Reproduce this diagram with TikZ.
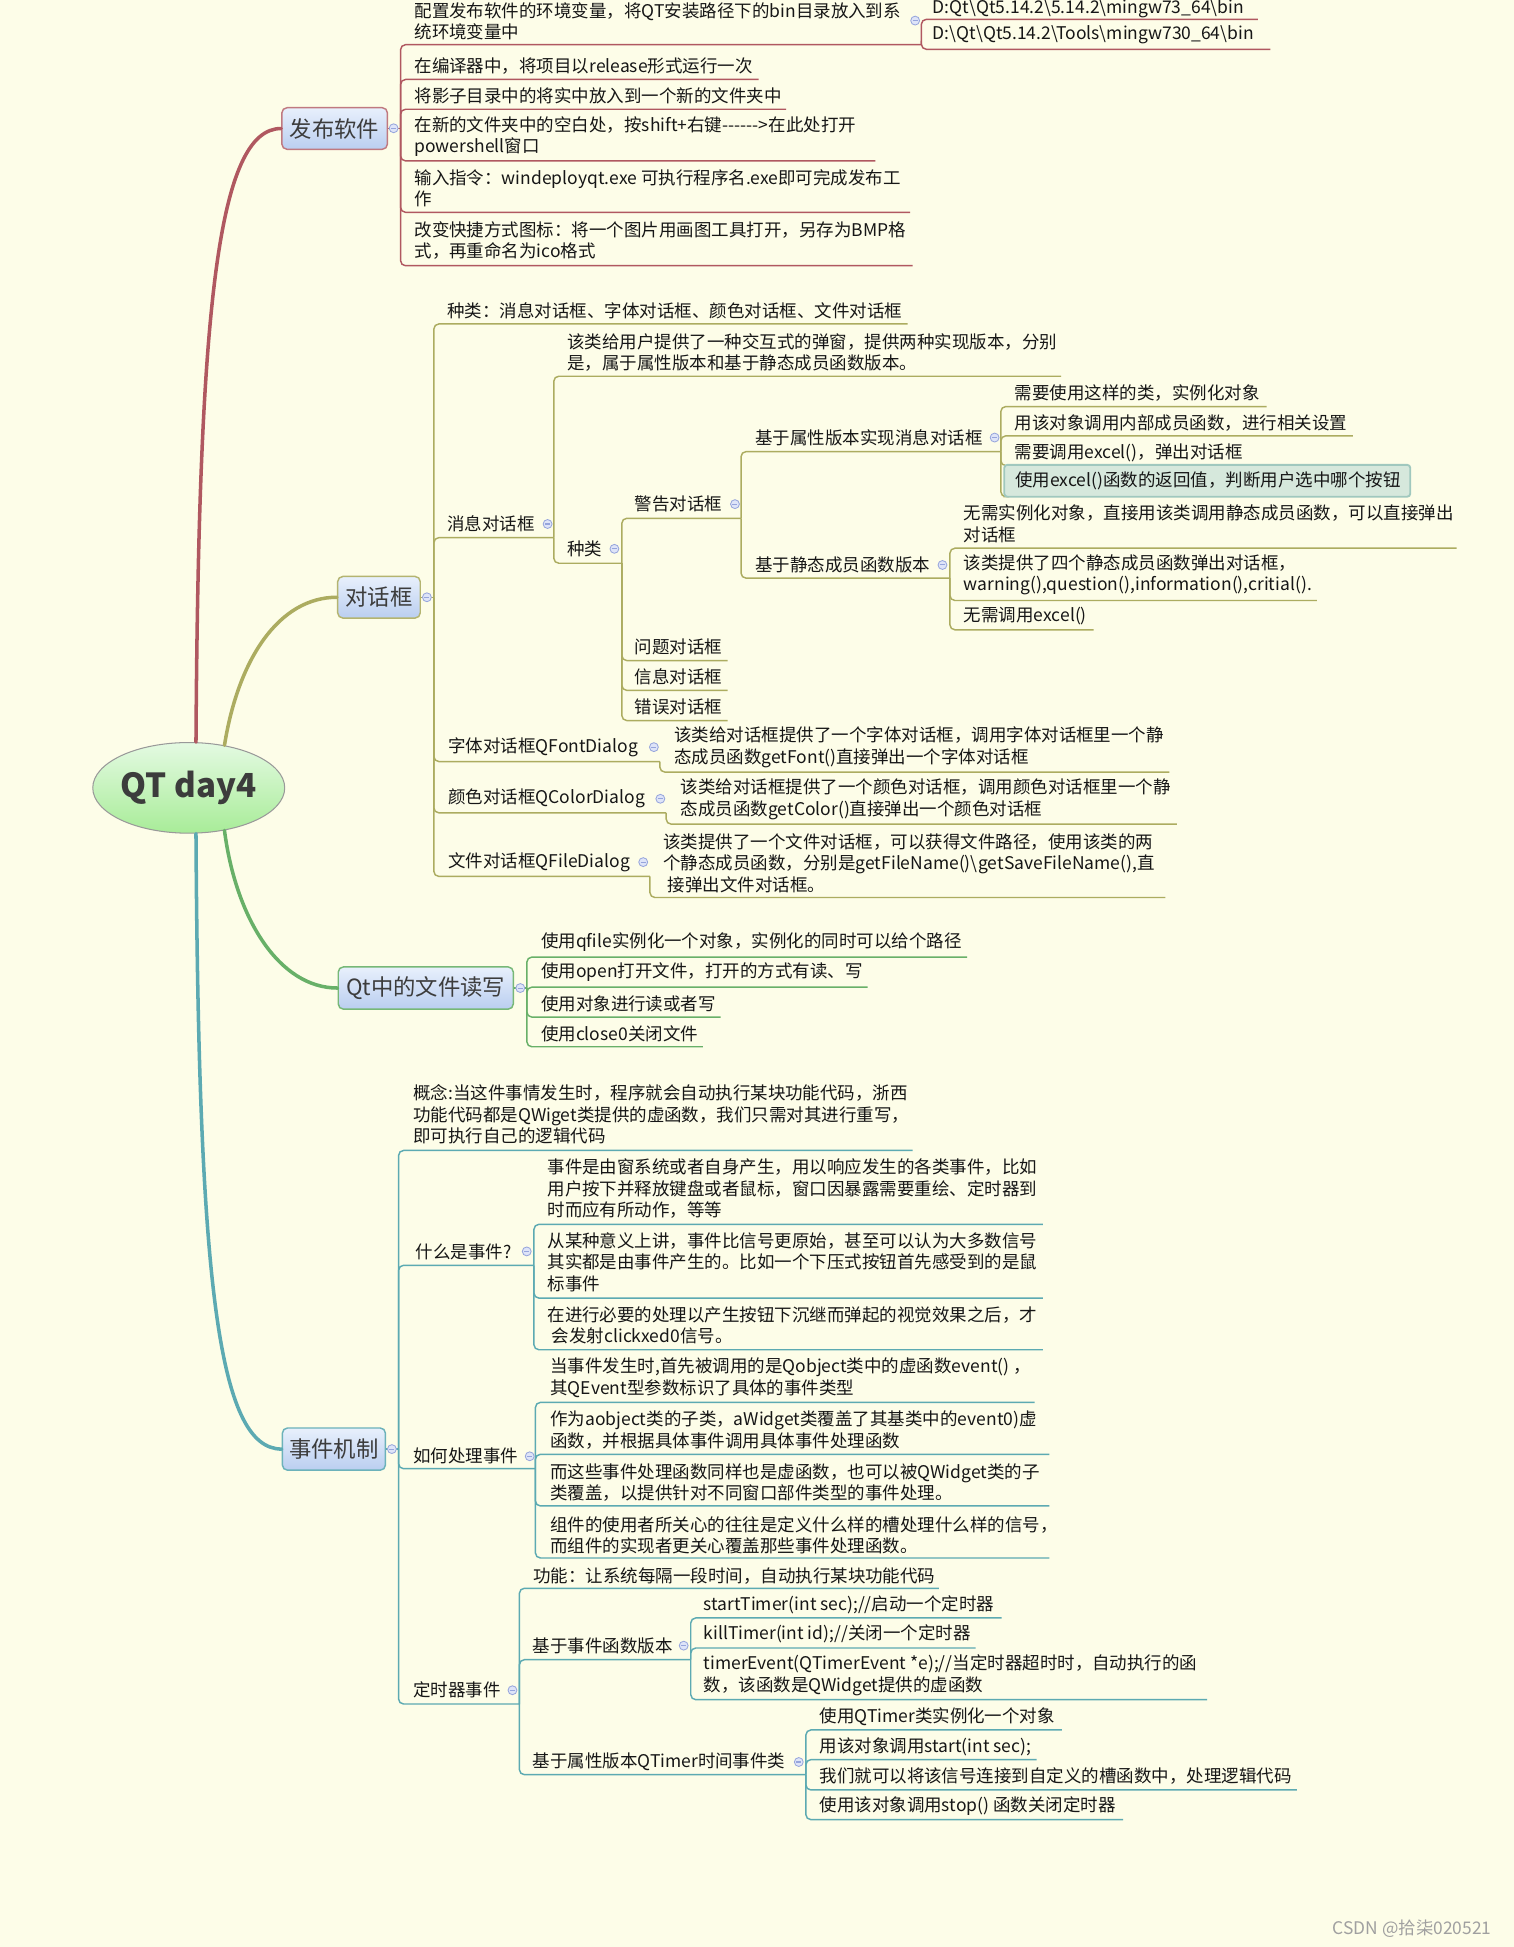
\documentclass[tikz,border=0pt]{standalone}
\usepackage{fontspec}
\newfontfamily\zh{Noto Sans CJK SC}
\usetikzlibrary{shapes.geometric}

\definecolor{bgc}{RGB}{253,253,232}
\definecolor{pubc}{RGB}{176,88,96}
\definecolor{dlgc}{RGB}{172,172,96}
\definecolor{filec}{RGB}{104,176,104}
\definecolor{evtc}{RGB}{92,170,178}
\definecolor{boxtop}{RGB}{232,240,252}
\definecolor{boxbot}{RGB}{186,206,240}
\definecolor{roottop}{RGB}{228,250,226}
\definecolor{rootbot}{RGB}{168,236,152}
\definecolor{textc}{RGB}{22,22,22}
\definecolor{topicc}{RGB}{60,60,60}
\definecolor{foldfill}{RGB}{222,228,248}
\definecolor{foldline}{RGB}{150,165,220}
\definecolor{hlfill}{RGB}{214,232,220}
\definecolor{hlline}{RGB}{160,200,190}
\definecolor{wmc}{RGB}{160,160,160}

\newcommand*{\pagew}{1219}
\newcommand*{\pageh}{1568}

\begin{document}
\begin{tikzpicture}
[
	x=0.6pt, y=-0.6pt,
	link/.style={line width=0.7pt, rounded corners=2.4pt},
	branch/.style={line width=1.7pt, line cap=round},
	txt/.style={anchor=west, inner sep=0pt, align=left, text=textc, font=\zh\fontsize{8.45}{10.4}\selectfont},
	topic/.style={rectangle, rounded corners=2.5pt, line width=0.7pt, top color=boxtop, bottom color=boxbot, inner sep=0pt, text=topicc, font=\zh\fontsize{10.8}{12}\selectfont},
	fold/.style={circle, draw=foldline, fill=foldfill, line width=0.4pt, inner sep=0pt, minimum size=4.3pt,
		path picture={\draw[foldline, line width=0.5pt] ([xshift=-1.2pt]path picture bounding box.center) -- ([xshift=1.2pt]path picture bounding box.center);}},
	hlbox/.style={anchor=west, rectangle, rounded corners=1.5pt, draw=hlline, fill=hlfill, line width=0.9pt, inner xsep=5.4pt, inner ysep=0pt, minimum height=15.4pt, text width=185.4pt, align=left, text=textc, font=\zh\fontsize{8.45}{10.4}\selectfont},
	rootnode/.style={ellipse, draw=gray!80, line width=0.5pt, top color=roottop, bottom color=rootbot, minimum width=90pt, minimum height=43.8pt, inner sep=0pt, text=topicc, font=\zh\bfseries\fontsize{16}{18}\selectfont}
]

	% page
	\fill[bgc] (0,0) rectangle (\pagew,\pageh);
	\useasboundingbox (0,0) rectangle (\pagew,\pageh);

	% root and topics
	\node[rootnode] (root) at (152,634.5) {QT day4};
	\node[topic, draw=pubc!80, minimum width=51pt, minimum height=20.1pt] (pub) at (269.5,103.5) {发布软件};
	\node[topic, draw=dlgc!90, minimum width=39.9pt, minimum height=20.1pt] (dlg) at (305.2,481) {对话框};
	\node[topic, draw=filec!90, minimum width=84.6pt, minimum height=20.4pt] (file) at (342.9,795.7) {Qt中的文件读写};
	\node[topic, draw=evtc!90, minimum width=49.8pt, minimum height=20.4pt] (evt) at (268.9,1167) {事件机制};

	% branches
	\draw[branch, pubc] (root.81) .. controls (160,250) and (175,103.5) .. (pub.west);
	\draw[branch, dlgc] (root.50) .. controls (192,530) and (225,481) .. (dlg.west);
	\draw[branch, filec] (root.-50) .. controls (190,740) and (225,795.7) .. (file.west);
	\draw[branch, evtc] (root.-81) .. controls (160,1030) and (175,1167) .. (evt.west);

	% underline ends
	\coordinate (pub-u) at (322.6,103.5);
	\coordinate (p1-u) at (742,36);
	\coordinate (p1a-u) at (1013,15.6);
	\coordinate (p1b-u) at (1023,39.7);
	\coordinate (p2-u) at (611,64);
	\coordinate (p3-u) at (633,88);
	\coordinate (p4-u) at (705,129.6);
	\coordinate (p5-u) at (733,171);
	\coordinate (p6-u) at (735,214);

	\coordinate (dlg-u) at (349.4,481);
	\coordinate (d1-u) at (731,260.9);
	\coordinate (d2-u) at (446,433);
	\coordinate (m1-u) at (854.5,303);
	\coordinate (m2-u) at (500.8,453.6);
	\coordinate (k1-u) at (596.8,417.4);
	\coordinate (w1-u) at (806,363.7);
	\coordinate (a1-u) at (1020,327.4);
	\coordinate (a2-u) at (1089.5,351);
	\coordinate (a3-u) at (1005,375);
	\coordinate (a4-u) at (808,400);
	\coordinate (w2-u) at (765,465.6);
	\coordinate (s1-u) at (1173,441.5);
	\coordinate (s2-u) at (1060.5,483.6);
	\coordinate (s3-u) at (880.7,507.2);
	\coordinate (k2-u) at (586,532);
	\coordinate (k3-u) at (586,556);
	\coordinate (k4-u) at (586,580.3);
	\coordinate (d3-u) at (531.4,613.3);
	\coordinate (f1-u) at (941.8,621.8);
	\coordinate (d4-u) at (536.5,654.6);
	\coordinate (c1-u) at (947.7,663.7);
	\coordinate (d5-u) at (523.4,705.8);
	\coordinate (q1-u) at (938.6,722.8);

	\coordinate (file-u) at (424.3,795.7);
	\coordinate (r1-u) at (778.8,770.8);
	\coordinate (r2-u) at (698.8,795);
	\coordinate (r3-u) at (580.4,819.1);
	\coordinate (r4-u) at (566,843);

	\coordinate (evt-u) at (321,1167);
	\coordinate (e1-u) at (735,926.5);
	\coordinate (e2-u) at (430,1019);
	\coordinate (x1-u) at (839.8,986);
	\coordinate (x2-u) at (839.8,1045.4);
	\coordinate (x3-u) at (839.8,1087);
	\coordinate (e3-u) at (431.2,1182.8);
	\coordinate (h1-u) at (833.2,1129.4);
	\coordinate (h2-u) at (845,1171.2);
	\coordinate (h3-u) at (845,1212.8);
	\coordinate (h4-u) at (845,1254.7);
	\coordinate (e4-u) at (418.3,1372.3);
	\coordinate (t1-u) at (756.2,1279.1);
	\coordinate (t2-u) at (556.3,1336.6);
	\coordinate (g1-u) at (806.6,1303);
	\coordinate (g2-u) at (785.7,1327.2);
	\coordinate (g3-u) at (972.1,1368.8);
	\coordinate (t3-u) at (649,1429.2);
	\coordinate (v1-u) at (855.1,1393.2);
	\coordinate (v2-u) at (834.8,1417.1);
	\coordinate (v3-u) at (1044.5,1441.5);
	\coordinate (v4-u) at (904.4,1465.4);

	% links
	\draw[link, pubc] (pub.east) -- (pub-u);
	\foreach \c in {p1,p2,p3,p4,p5,p6}
		\draw[link, pubc] (pub-u) |- (\c-u);
	\foreach \c in {p1a,p1b}
		\draw[link, pubc] (p1-u) |- (\c-u);

	\draw[link, dlgc] (dlg.east) -- (dlg-u);
	\foreach \c in {d1,d2,d3,d4,d5}
		\draw[link, dlgc] (dlg-u) |- (\c-u);
	\foreach \c in {m1,m2}
		\draw[link, dlgc] (d2-u) |- (\c-u);
	\foreach \c in {k1,k2,k3,k4}
		\draw[link, dlgc] (m2-u) |- (\c-u);
	\foreach \c in {w1,w2}
		\draw[link, dlgc] (k1-u) |- (\c-u);
	\foreach \c in {a1,a2,a3,a4}
		\draw[link, dlgc] (w1-u) |- (\c-u);
	\foreach \c in {s1,s2,s3}
		\draw[link, dlgc] (w2-u) |- (\c-u);
	\draw[link, dlgc] (d3-u) |- (f1-u);
	\draw[link, dlgc] (d4-u) |- (c1-u);
	\draw[link, dlgc] (d5-u) |- (q1-u);

	\draw[link, filec] (file.east) -- (file-u);
	\foreach \c in {r1,r2,r3,r4}
		\draw[link, filec] (file-u) |- (\c-u);

	\draw[link, evtc] (evt.east) -- (evt-u);
	\foreach \c in {e1,e2,e3,e4}
		\draw[link, evtc] (evt-u) |- (\c-u);
	\foreach \c in {x1,x2,x3}
		\draw[link, evtc] (e2-u) |- (\c-u);
	\foreach \c in {h1,h2,h3,h4}
		\draw[link, evtc] (e3-u) |- (\c-u);
	\foreach \c in {t1,t2,t3}
		\draw[link, evtc] (e4-u) |- (\c-u);
	\foreach \c in {g1,g2,g3}
		\draw[link, evtc] (t2-u) |- (\c-u);
	\foreach \c in {v1,v2,v3,v4}
		\draw[link, evtc] (t3-u) |- (\c-u);

	% fold marks
	\node[fold] (pub-o) at (317,103.3) {};
	\node[fold] (p1-o) at (737,16.6) {};
	\node[fold] (dlg-o) at (343.8,481) {};
	\node[fold] (d2-o) at (441,422) {};
	\node[fold] (m2-o) at (494.8,442) {};
	\node[fold] (k1-o) at (591.9,406) {};
	\node[fold] (w1-o) at (801,352.4) {};
	\node[fold] (w2-o) at (759,455) {};
	\node[fold] (d3-o) at (526.6,601.7) {};
	\node[fold] (d4-o) at (531.8,643.3) {};
	\node[fold] (d5-o) at (518,694.3) {};
	\node[fold] (file-o) at (419,795.7) {};
	\node[fold] (evt-o) at (315.6,1167) {};
	\node[fold] (e2-o) at (424.2,1007.8) {};
	\node[fold] (e3-o) at (426.6,1172.8) {};
	\node[fold] (e4-o) at (412.7,1361.2) {};
	\node[fold] (t2-o) at (550.6,1325.3) {};
	\node[fold] (t3-o) at (643.3,1419) {};

	% publishing
	\node[txt] (p1) at (333.5,17.3) {配置发布软件的环境变量，将QT安装路径下的bin目录放入到系\\统环境变量中};
	\node[txt] (p1a) at (751,7) {D:Qt\textbackslash Qt5.14.2\textbackslash 5.14.2\textbackslash mingw73\_64\textbackslash bin};
	\node[txt] (p1b) at (751,28) {D:\textbackslash Qt\textbackslash Qt5.14.2\textbackslash Tools\textbackslash mingw730\_64\textbackslash bin};
	\node[txt] (p2) at (333.5,53) {在编译器中，将项目以release形式运行一次};
	\node[txt] (p3) at (333.5,77) {将影子目录中的将实中放入到一个新的文件夹中};
	\node[txt] (p4) at (333.5,110) {在新的文件夹中的空白处，按shift+右键-\kern0pt-\kern0pt-\kern0pt-\kern0pt-\kern0pt->在此处打开\\powershell窗口};
	\node[txt] (p5) at (333.5,151.5) {输入指令：windeployqt.exe 可执行程序名.exe即可完成发布工\\作};
	\node[txt] (p6) at (333.5,193.8) {改变快捷方式图标：将一个图片用画图工具打开，另存为BMP格\\式，再重命名为ico格式};

	% dialogs
	\node[txt] (d1) at (360,250) {种类：消息对话框、字体对话框、颜色对话框、文件对话框};
	\node[txt] (d2) at (360,422) {消息对话框};
	\node[txt] (m1) at (456.6,283.8) {该类给用户提供了一种交互式的弹窗，提供两种实现版本，分别\\是，属于属性版本和基于静态成员函数版本。};
	\node[txt] (m2) at (456.6,442) {种类};
	\node[txt] (k1) at (511,406) {警告对话框};
	\node[txt] (w1) at (608,352.4) {基于属性版本实现消息对话框};
	\node[txt] (a1) at (817,316.7) {需要使用这样的类，实例化对象};
	\node[txt] (a2) at (817,340.8) {用该对象调用内部成员函数，进行相关设置};
	\node[txt] (a3) at (817,364.5) {需要调用excel()，弹出对话框};
	\node[hlbox] (a4) at (808,387.2) {使用excel()函数的返回值，判断用户选中哪个按钮};
	\node[txt] (w2) at (608,455) {基于静态成员函数版本};
	\node[txt] (s1) at (776,422) {无需实例化对象，直接用该类调用静态成员函数，可以直接弹出\\对话框};
	\node[txt] (s2) at (776,463) {该类提供了四个静态成员函数弹出对话框，\\warning(),question(),information(),critial().};
	\node[txt] (s3) at (776,496.5) {无需调用excel()};
	\node[txt] (k2) at (511,520.7) {问题对话框};
	\node[txt] (k3) at (511,544.8) {信息对话框};
	\node[txt] (k4) at (511,569) {错误对话框};
	\node[txt] (d3) at (360.7,601.7) {字体对话框QFontDialog};
	\node[txt] (f1) at (542.7,602) {该类给对话框提供了一个字体对话框，调用字体对话框里一个静\\态成员函数getFont()直接弹出一个字体对话框};
	\node[txt] (d4) at (360.7,643.3) {颜色对话框QColorDialog};
	\node[txt] (c1) at (548,643.8) {该类给对话框提供了一个颜色对话框，调用颜色对话框里一个静\\态成员函数getColor()直接弹出一个颜色对话框};
	\node[txt] (d5) at (360.7,694.3) {文件对话框QFileDialog};
	\node[txt] (q1) at (534,695.2) {该类提供了一个文件对话框，可以获得文件路径，使用该类的两\\个静态成员函数，分别是getFileName()\textbackslash getSaveFileName(),直\\\hspace{0.25em}接弹出文件对话框。};

	% file io
	\node[txt] (r1) at (435.4,759) {使用qfile实例化一个对象，实例化的同时可以给个路径};
	\node[txt] (r2) at (435.4,783.2) {使用open打开文件，打开的方式有读、写};
	\node[txt] (r3) at (435.4,808.4) {使用对象进行读或者写};
	\node[txt] (r4) at (435.4,832.5) {使用close0关闭文件};

	% events
	\node[txt] (e1) at (332.6,897.5) {概念:当这件事情发生时，程序就会自动执行某块功能代码，浙西\\功能代码都是QWiget类提供的虚函数，我们只需对其进行重写，\\即可执行自己的逻辑代码};
	\node[txt] (e2) at (334.6,1007.8) {什么是事件?};
	\node[txt] (x1) at (440.6,957.3) {事件是由窗系统或者自身产生，用以响应发生的各类事件，比如\\用户按下并释放键盘或者鼠标，窗口因暴露需要重绘、定时器到\\时而应有所动作，等等};
	\node[txt] (x2) at (440.6,1016.4) {从某种意义上讲，事件比信号更原始，甚至可以认为大多数信号\\其实都是由事件产生的。比如一个下压式按钮首先感受到的是鼠\\标事件};
	\node[txt] (x3) at (440.6,1067.5) {在进行必要的处理以产生按钮下沉继而弹起的视觉效果之后，才\\\hspace{0.25em}会发射clickxed0信号。};
	\node[txt] (e3) at (332.6,1172.8) {如何处理事件};
	\node[txt] (h1) at (443,1109.5) {当事件发生时,首先被调用的是Qobject类中的虚函数event() ，\\其QEvent型参数标识了具体的事件类型};
	\node[txt] (h2) at (443,1151.8) {作为aobject类的子类，aWidget类覆盖了其基类中的event0)虚\\函数，并根据具体事件调用具体事件处理函数};
	\node[txt] (h3) at (443,1193.9) {而这些事件处理函数同样也是虚函数，也可以被QWidget类的子\\类覆盖，以提供针对不同窗口部件类型的事件处理。};
	\node[txt] (h4) at (443,1236.4) {组件的使用者所关心的往往是定义什么样的槽处理什么样的信号，\\而组件的实现者更关心覆盖那些事件处理函数。};
	\node[txt] (e4) at (332.6,1361.2) {定时器事件};
	\node[txt] (t1) at (429.1,1268.9) {功能：让系统每隔一段时间，自动执行某块功能代码};
	\node[txt] (t2) at (428.6,1325.3) {基于事件函数版本};
	\node[txt] (g1) at (566.4,1292.3) {startTimer(int sec);//启动一个定时器};
	\node[txt] (g2) at (566.4,1315.9) {killTimer(int id);//关闭一个定时器};
	\node[txt] (g3) at (566.4,1349.3) {timerEvent(QTimerEvent *e);//当定时器超时时，自动执行的函\\数，该函数是QWidget提供的虚函数};
	\node[txt] (t3) at (428.6,1419) {基于属性版本QTimer时间事件类};
	\node[txt] (v1) at (659.7,1382.7) {使用QTimer类实例化一个对象};
	\node[txt] (v2) at (659.7,1406.4) {用该对象调用start(int sec);};
	\node[txt] (v3) at (659.7,1430.5) {我们就可以将该信号连接到自定义的槽函数中，处理逻辑代码};
	\node[txt] (v4) at (659.7,1454.7) {使用该对象调用stop() 函数关闭定时器};

	% watermark
	\node[txt, text=wmc, font=\zh\fontsize{8.4}{10}\selectfont] (mark) at (1073,1553) {CSDN @拾柒020521};

\end{tikzpicture}
\end{document}
